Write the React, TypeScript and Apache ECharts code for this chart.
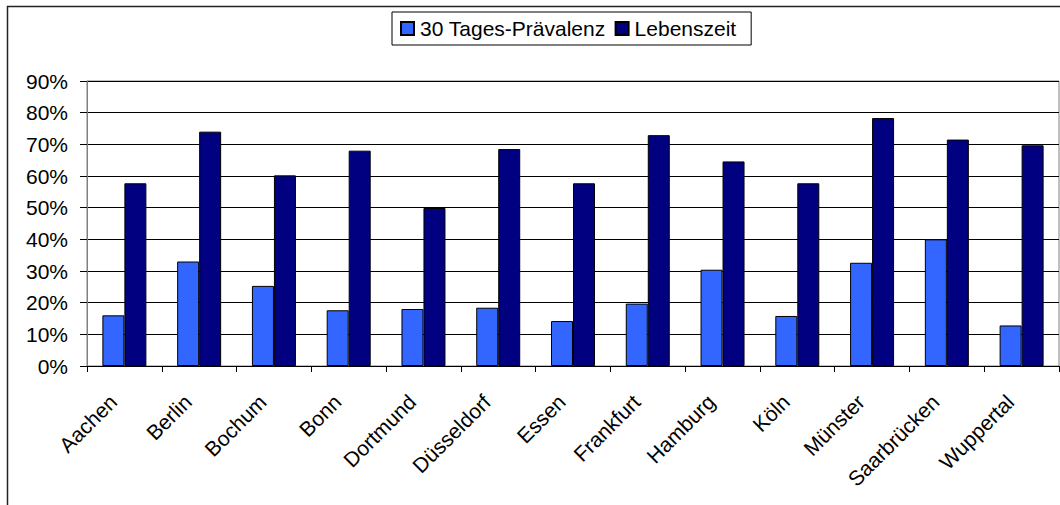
import React, { useEffect, useRef } from "react";
import * as echarts from "echarts";

const cities = [
  "Aachen", "Berlin", "Bochum", "Bonn", "Dortmund", "Düsseldorf", "Essen",
  "Frankfurt", "Hamburg", "Köln", "Münster", "Saarbrücken", "Wuppertal",
];
const praevalenz30 = [16, 33, 25.3, 17.6, 18, 18.4, 14.2, 19.7, 30.4, 15.8, 32.6, 40, 12.8];
const lebenszeit = [57.7, 74, 60.2, 68, 49.9, 68.5, 57.7, 72.9, 64.6, 57.7, 78.3, 71.5, 69.7];
const seriesNames = ["30 Tages-Prävalenz", "Lebenszeit"];
const yTicks = { min: 0, max: 90, interval: 10 };

const FONT = "'Liberation Sans', Arial, sans-serif";

export default function App() {
  const ref = useRef<HTMLDivElement>(null);
  useEffect(() => {
    document.body.style.margin = "0";
    if (!ref.current) return;
    const chart = echarts.init(ref.current, null, { renderer: "svg" });
    chart.setOption({
      animation: false,
      backgroundColor: "#fff",
      textStyle: { fontFamily: FONT },
      graphic: [
        {
          type: "rect",
          shape: { x: 7.5, y: 6.5, width: 1100, height: 600 },
          style: { fill: "none", stroke: "#222", lineWidth: 1.5 },
          silent: true,
          z: -1,
        },
      ],
      legend: {
        left: 392,
        top: 12,
        orient: "horizontal",
        itemWidth: 13,
        itemHeight: 13,
        itemGap: 9,
        icon: "rect",
        padding: [6, 15, 6, 8],
        borderColor: "#000",
        borderWidth: 1,
        textStyle: { fontSize: 21, color: "#000", fontFamily: FONT, padding: [0, 0, 0, 1] },
        data: seriesNames,
      },
      grid: {
        left: 87,
        right: 1,
        top: 81,
        bottom: 139,
        show: true,
        borderColor: "#808080",
        borderWidth: 1,
        containLabel: false,
      },
      xAxis: {
        type: "category",
        data: cities,
        boundaryGap: true,
        axisLine: { show: true, lineStyle: { color: "#000", width: 1 } },
        axisTick: { show: true, length: 6, lineStyle: { color: "#000" } },
        axisLabel: {
          interval: 0,
          rotate: 45,
          fontSize: 21,
          color: "#000",
          fontFamily: FONT,
          margin: 21,
          padding: [0, 16, 0, 0],
        },
      },
      yAxis: {
        type: "value",
        min: yTicks.min,
        max: yTicks.max,
        interval: yTicks.interval,
        axisLine: { show: true, lineStyle: { color: "#808080", width: 1 } },
        axisTick: { show: true, length: 7, lineStyle: { color: "#000" } },
        splitLine: { show: true, lineStyle: { color: "#000", width: 1 } },
        axisLabel: {
          formatter: "{value}%",
          fontSize: 21,
          color: "#000",
          fontFamily: FONT,
          margin: 19,
        },
      },
      series: [
        {
          name: seriesNames[0],
          type: "bar",
          data: praevalenz30,
          barWidth: 22,
          barGap: "0%",
          itemStyle: { color: "#3366FF", borderColor: "#000", borderWidth: 1 },
        },
        {
          name: seriesNames[1],
          type: "bar",
          data: lebenszeit,
          barWidth: 22,
          barGap: "0%",
          itemStyle: { color: "#000080", borderColor: "#000", borderWidth: 1 },
        },
      ],
    });
    return () => chart.dispose();
  }, []);
  return <div ref={ref} style={{ width: 1060, height: 505 }} />;
}
